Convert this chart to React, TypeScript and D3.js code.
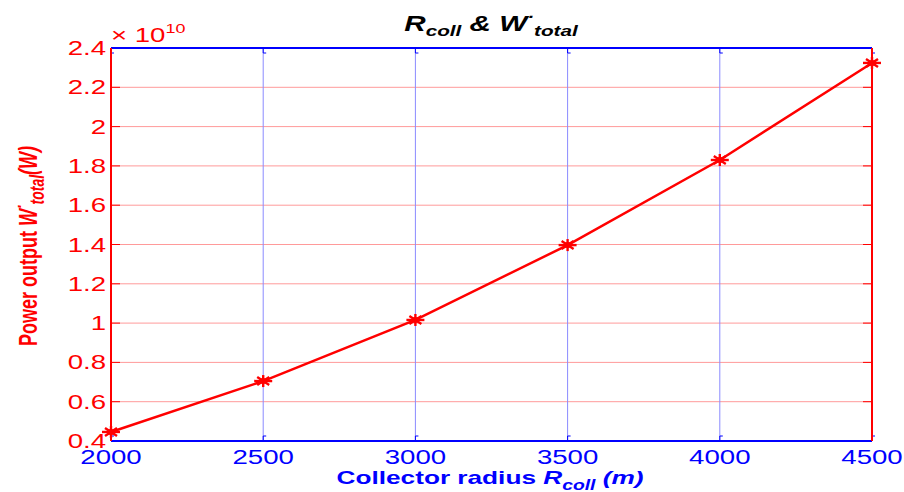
import React from "react";
import * as d3 from "d3";

// Collector radius (m) and total power output (×10^10 W)
const radius = [2000, 2500, 3000, 3500, 4000, 4500];
const power = [0.446, 0.705, 1.016, 1.397, 1.83, 2.324];
const xTicks = [2000, 2500, 3000, 3500, 4000, 4500];
const yTicks = [0.4, 0.6, 0.8, 1, 1.2, 1.4, 1.6, 1.8, 2, 2.2, 2.4];

const W = 904;
const H = 492;
const margin = { left: 111, right: 32, top: 48, bottom: 51 };
const SX = 1.38; // horizontal stretch of the figure's lettering
const FONT = "Liberation Sans, Arial, sans-serif";

function T({ x, y, anchor = "start", size = 20, fill, weight = "normal", italic = false, children }: any) {
  return (
    <text
      transform={`translate(${x},${y}) scale(${SX},1)`}
      textAnchor={anchor}
      fontSize={size}
      fill={fill}
      fontWeight={weight}
      fontStyle={italic ? "italic" : "normal"}
      fontFamily={FONT}
    >
      {children}
    </text>
  );
}

export default function App() {
  const x = d3.scaleLinear().domain([2000, 4500]).range([margin.left, W - margin.right]);
  const y = d3.scaleLinear().domain([0.4, 2.4]).range([H - margin.bottom, margin.top]);
  const line = d3
    .line<number>()
    .x((_, i) => x(radius[i]))
    .y((d) => y(d));
  const x0 = x(2000), x1 = x(4500), y0 = y(0.4), y1 = y(2.4);
  const red = "#ff0000";
  const blue = "#0000ff";

  return (
    <svg width={W} height={H} style={{ position: "absolute", left: 0, top: 0, background: "#fff" }}>
      {/* grid */}
      {yTicks.map((t) => (
        <line key={"gy" + t} x1={x0} x2={x1} y1={y(t)} y2={y(t)} stroke="#ff9a9a" strokeWidth={1} />
      ))}
      {xTicks.map((t) => (
        <line key={"gx" + t} x1={x(t)} x2={x(t)} y1={y1} y2={y0} stroke="#8a8aff" strokeWidth={1} />
      ))}
      {/* y ticks, left and right */}
      {yTicks.map((t) => (
        <g key={"ty" + t}>
          <line x1={x0} x2={x0 + 9} y1={y(t)} y2={y(t)} stroke={red} strokeWidth={1} />
          <line x1={x1} x2={x1 - 9} y1={y(t)} y2={y(t)} stroke={red} strokeWidth={1} />
          <T x={x0 - 5} y={y(t) + 7} anchor="end" fill={red}>
            {d3.format("~g")(t)}
          </T>
        </g>
      ))}
      {/* x ticks, bottom and top */}
      {xTicks.map((t) => (
        <g key={"tx" + t}>
          <line x1={x(t)} x2={x(t)} y1={y0} y2={y0 - 5} stroke={blue} strokeWidth={1} />
          <line x1={x(t)} x2={x(t) + 3} y1={y0 - 5} y2={y0 - 5} stroke={blue} strokeWidth={1} />
          <line x1={x(t)} x2={x(t)} y1={y1} y2={y1 + 5} stroke={blue} strokeWidth={1} />
          <line x1={x(t)} x2={x(t) + 3} y1={y1 + 5} y2={y1 + 5} stroke={blue} strokeWidth={1} />
          <T x={x(t)} y={y0 + 23} anchor="middle" fill={blue}>
            {t}
          </T>
        </g>
      ))}
      {/* axes frame */}
      <line x1={x0} x2={x1} y1={y1} y2={y1} stroke={blue} strokeWidth={2} />
      <line x1={x0} x2={x1} y1={y0} y2={y0} stroke={blue} strokeWidth={2} />
      <line x1={x0} x2={x0} y1={y1} y2={y0} stroke={red} strokeWidth={2} />
      <line x1={x1} x2={x1} y1={y1} y2={y0} stroke={red} strokeWidth={2} />

      {/* data line */}
      <path d={line(power) || ""} fill="none" stroke={red} strokeWidth={2.5} />
      {power.map((v, i) => {
        const cx = x(radius[i]);
        const cy = y(v);
        return (
          <g key={"m" + i} stroke={red} strokeWidth={2.4}>
            <line x1={cx - 9} x2={cx + 9} y1={cy} y2={cy} />
            <line x1={cx} x2={cx} y1={cy - 6} y2={cy + 6} />
            <line x1={cx - 6} x2={cx + 6} y1={cy - 4} y2={cy + 4} />
            <line x1={cx - 6} x2={cx + 6} y1={cy + 4} y2={cy - 4} />
            <ellipse cx={cx} cy={cy} rx={4} ry={3} fill={red} stroke="none" />
          </g>
        );
      })}

      {/* exponent */}
      <T x={x0} y={y1 - 6} fill={red} size={20}>
        × 10<tspan fontSize={13} dy={-9}>10</tspan>
      </T>

      {/* title */}
      <T x={491} y={31} anchor="middle" size={21.5} weight="bold" italic fill="#000">
        R<tspan fontSize={15} dy={5}>coll</tspan>
        <tspan dy={-5}> &amp; W</tspan>
        <tspan fontSize={15} dy={-9}>·</tspan>
        <tspan fontSize={15} dy={14}>total</tspan>
      </T>

      {/* x label */}
      <T x={490} y={484} anchor="middle" size={19} weight="bold" fill={blue}>
        Collector radius <tspan fontStyle="italic">R</tspan>
        <tspan fontStyle="italic" fontSize={14} dy={6}>coll</tspan>
        <tspan fontStyle="italic" dy={-6}> (m)</tspan>
      </T>

      {/* y label */}
      <g transform="translate(37,246) rotate(-90)">
        <text
          transform={`scale(1,${SX})`}
          textAnchor="middle"
          fontSize={18}
          fontWeight="bold"
          fill={red}
          fontFamily={FONT}
        >
          Power output <tspan fontStyle="italic">W</tspan>
          <tspan fontStyle="italic" fontSize={14} dy={-8}>·</tspan>
          <tspan fontStyle="italic" fontSize={14} dy={13}>total</tspan>
          <tspan fontStyle="italic" dy={-5}>(W)</tspan>
        </text>
      </g>
    </svg>
  );
}
